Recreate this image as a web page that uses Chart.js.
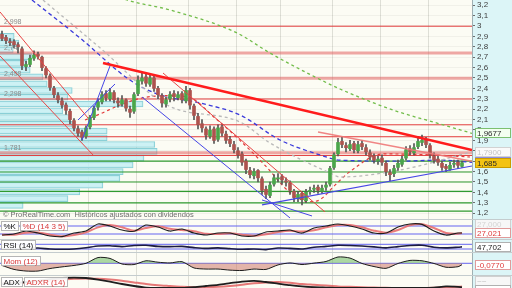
<!DOCTYPE html>
<html>
<head>
<meta charset="utf-8">
<script src="https://cdn.jsdelivr.net/npm/chart.js@4.4.1/dist/chart.umd.min.js"></script>
<style>
  html, body { margin: 0; padding: 0; background: #fff; }
  #wrap { position: relative; width: 512px; height: 288px; overflow: hidden; background: #c4ccce; }
  #wrap canvas { position: absolute; left: 0; }
</style>
</head>
<body>
<div id="wrap">
  <canvas id="cMain" width="512" height="219" style="top:0"></canvas>
  <canvas id="cStoch" width="512" height="19" style="top:220px"></canvas>
  <canvas id="cRsi" width="512" height="12" style="top:240px"></canvas>
  <canvas id="cMom" width="512" height="22" style="top:253px"></canvas>
  <canvas id="cAdx" width="512" height="12" style="top:276px"></canvas>
</div>
<script>
// ---- daily candles (index 0 .. 115) ----
const open = [2.92,2.89,2.85,2.85,2.82,2.78,2.61,2.63,2.69,2.73,
  2.70,2.59,2.52,2.40,2.33,2.28,2.24,2.18,2.09,2.01,
  1.98,1.94,2.03,2.12,2.22,2.27,2.35,2.30,2.36,2.28,
  2.25,2.29,2.20,2.18,2.35,2.47,2.51,2.44,2.50,2.40,
  2.33,2.25,2.30,2.35,2.31,2.35,2.28,2.38,2.23,2.13,
  2.06,2.01,1.94,2.01,1.91,2.03,1.96,1.91,1.86,1.80,
  1.77,1.70,1.61,1.56,1.61,1.53,1.43,1.37,1.48,1.53,
  1.55,1.51,1.49,1.41,1.34,1.39,1.32,1.41,1.43,1.45,
  1.41,1.45,1.48,1.64,1.77,1.89,1.85,1.82,1.87,1.80,
  1.87,1.83,1.78,1.75,1.70,1.73,1.68,1.59,1.58,1.64,
  1.67,1.73,1.82,1.78,1.84,1.88,1.91,1.85,1.75,1.72,
  1.68,1.65,1.62,1.67,1.69,1.65];
const close = [2.88,2.86,2.84,2.82,2.80,2.62,2.63,2.69,2.72,2.71,
  2.60,2.53,2.41,2.34,2.29,2.24,2.19,2.10,2.02,1.97,
  1.93,2.02,2.12,2.21,2.27,2.34,2.31,2.36,2.29,2.26,
  2.29,2.21,2.17,2.34,2.48,2.50,2.45,2.50,2.40,2.34,
  2.26,2.29,2.34,2.32,2.34,2.29,2.38,2.24,2.14,2.05,
  2.02,1.95,2.00,1.90,2.02,1.97,1.90,1.87,1.81,1.76,
  1.69,1.62,1.57,1.60,1.54,1.42,1.38,1.47,1.54,1.54,
  1.52,1.50,1.42,1.35,1.38,1.33,1.40,1.42,1.44,1.42,
  1.44,1.47,1.63,1.76,1.88,1.86,1.83,1.86,1.81,1.86,
  1.84,1.79,1.74,1.71,1.72,1.69,1.60,1.57,1.63,1.68,
  1.72,1.81,1.79,1.83,1.89,1.90,1.86,1.76,1.71,1.69,
  1.64,1.63,1.66,1.68,1.66,1.685];
const high = [2.95,2.91,2.88,2.87,2.84,2.80,2.66,2.72,2.76,2.75,
  2.71,2.61,2.54,2.42,2.36,2.31,2.26,2.20,2.11,2.04,
  2.00,2.04,2.14,2.23,2.30,2.37,2.38,2.40,2.38,2.31,
  2.33,2.30,2.23,2.36,2.52,2.55,2.54,2.54,2.52,2.42,
  2.35,2.32,2.37,2.38,2.37,2.37,2.42,2.40,2.25,2.16,
  2.10,2.03,2.04,2.03,2.05,2.05,1.99,1.94,1.89,1.83,
  1.79,1.72,1.64,1.63,1.62,1.55,1.46,1.50,1.57,1.58,
  1.57,1.54,1.51,1.43,1.41,1.41,1.43,1.45,1.47,1.47,
  1.47,1.50,1.65,1.78,1.92,1.93,1.88,1.90,1.89,1.89,
  1.90,1.86,1.81,1.77,1.75,1.76,1.70,1.62,1.66,1.71,
  1.75,1.84,1.85,1.87,1.94,1.95,1.93,1.87,1.78,1.75,
  1.70,1.67,1.69,1.71,1.71,1.70];
const low = [2.86,2.83,2.81,2.79,2.74,2.58,2.57,2.61,2.67,2.68,
  2.57,2.50,2.38,2.31,2.26,2.21,2.15,2.06,1.99,1.94,
  1.90,1.92,2.01,2.10,2.19,2.25,2.28,2.28,2.26,2.22,
  2.23,2.18,2.12,2.16,2.33,2.44,2.42,2.42,2.37,2.30,
  2.22,2.22,2.27,2.28,2.29,2.26,2.26,2.20,2.10,2.01,
  1.98,1.91,1.92,1.87,1.89,1.94,1.87,1.84,1.78,1.73,
  1.66,1.58,1.54,1.53,1.50,1.38,1.34,1.35,1.46,1.50,
  1.48,1.46,1.38,1.31,1.31,1.28,1.30,1.38,1.40,1.39,
  1.39,1.42,1.46,1.62,1.75,1.83,1.79,1.80,1.78,1.78,
  1.81,1.76,1.71,1.68,1.67,1.66,1.56,1.51,1.55,1.61,
  1.65,1.71,1.76,1.76,1.82,1.85,1.83,1.73,1.68,1.66,
  1.61,1.60,1.61,1.64,1.63,1.64];

// candle index where each new month begins
const monthStarts = [22, 34, 47, 59, 70, 83, 95, 107];
const priceTicks = [1.2, 1.3, 1.4, 1.5, 1.6, 1.7, 1.8, 1.9, 2.0, 2.1, 2.2, 2.3, 2.4, 2.5, 2.6, 2.7, 2.8, 2.9, 3.0, 3.1, 3.2];

// horizontal levels
const redLevels = [2.998, 2.298, 2.05, 1.935, 1.755];
const zoneLevels = [2.74, 2.498, 1.781];
const greenLevels = [1.70, 1.596, 1.50, 1.41, 1.30, 1.22];
const levelLabels = [2.998, 2.74, 2.498, 2.298, 1.781];

// volume profile (price bin, volume)
const profPrice = [2.90,2.835,2.77,2.705,2.64,2.575,2.51,2.445,2.38,2.315,2.25,2.185,2.12,2.055,1.99,1.925,1.86,1.795,1.73,1.665,1.60,1.535,1.47,1.405,1.34,1.275];
const profVol = [3.0,4.0,2.8,6.8,5.7,6.4,9.1,10.0,15.3,14.4,30.3,13.3,14.8,15.3,22.7,22.7,32.8,33.3,30.5,28.2,26.1,25.4,21.8,16.9,14.4,4.9];

// moving averages [candle index, price]
const maBlue = [[7.5,3.25],[19.5,2.885],[32,2.48],[39.5,2.337],[49.5,2.26],[59.5,2.144],[69.5,1.904],[79.5,1.76],[84.5,1.71],[99.5,1.70],[109.5,1.71],[117.5,1.6883]];
const maGrey = [[10.25,3.25],[24.5,2.79],[41.25,2.24],[59.5,2.077],[67,1.875],[82,1.587],[84.5,1.548],[99.5,1.615],[117.5,1.79]];
const maGreen = [[28,3.30],[31.25,3.25],[42,3.154],[58.75,2.933],[67,2.74],[78.75,2.5],[84.5,2.394],[97.75,2.192],[109.5,2.058],[117.5,1.9677]];
const maRed = [[20.75,2.096],[24.5,2.154],[29.5,2.24],[35.25,2.31],[42,2.33],[47,2.31],[53.25,2.115],[59.5,1.90],[65.75,1.66],[72,1.40],[77,1.31],[79.5,1.33],[83.25,1.47],[87,1.60],[95.25,1.77],[107.75,1.76],[117,1.74]];

// trend lines [candle index, price]
const trendMain = [[25.25,2.644],[117.5,1.808]];
const trendRedA = [[-0.5,3.135],[21.5,2.115]];
const trendRedB = [[-0.5,2.712],[22.75,1.760]];
const trendRedC = [[40.25,2.548],[80.75,1.212]];
const trendSalmon = [[79,1.981],[117.5,1.70]];
const trendBlueP = [[20,1.904],[27,2.616]];
const trendBlueQ = [[19,2.096],[28.25,2.442]];
const trendBlueE = [[35,2.317],[72,1.154]];
const trendBlueF = [[65,1.327],[77.5,1.173]];
const trendBlueG = [[65,1.279],[117.5,1.654]];

// indicators sampled at these candle indices
const oscIdx = [0,3,6,9,12,15,18,21,24,27,30,33,36,39,42,45,48,51,54,57,60,63,66,69,72,75,78,81,84,87,90,93,96,99,102,105,108,111,114,115];
const stochK = [12,20,42,27,5,0,27,42,95,80,50,40,87,72,42,57,27,12,27,27,5,5,35,42,50,27,65,80,95,80,57,27,27,72,95,92,42,12,27,27];
const stochD = [15,15,30,32,15,3,12,32,70,88,70,45,65,78,60,50,40,22,20,25,15,6,18,35,45,38,48,70,88,88,70,45,30,50,85,93,65,28,22,27.021];
const rsi = [35,28,33,38,30,28,30,40,55,58,50,60,62,52,50,52,42,35,40,33,28,30,25,38,35,30,45,52,62,60,55,48,40,50,60,62,45,40,45,47.702];
const mom = [-0.12,-0.34,-0.43,-0.43,-0.29,-0.2,-0.12,0,0.32,0.27,-0.04,-0.07,0.14,0.06,0.02,0.09,-0.26,-0.32,-0.32,-0.38,-0.4,-0.32,-0.34,-0.09,0.02,-0.07,0.01,0.1,0.35,0.29,-0.01,-0.18,-0.28,-0.01,0.16,0.14,-0.01,-0.22,-0.19,-0.077];
const adx = [20,22,25,28,32,35,36,35,31,26,20,15,11,10,10,10,12,15,18,22,26,28,25,21,17,14,12,11,10,10,10,10,10,10,10,10,11,14,13,11.749];
const adxr = [22,23,24,26,29,31,33,34,33,31,28,24,20,17,15,13,12,12,13,15,18,22,24,25,23,20,18,16,14,13,12,11,10.5,10,10,10,10.5,12,13,13.5];

const footerText = '\u00a9 ProRealTime.com  Hist\u00f3ricos ajustados con dividendos';

const X_MIN = -0.5, X_MAX = 117.5;
const FONT = '"Liberation Sans", Arial, sans-serif';
Chart.defaults.font.family = FONT;

const comma = (v, d) => v.toFixed(d).replace('.', ',');
const pts = arr => arr.map(p => ({ x: p[0], y: p[1] }));

function lineDs(points, color, width, dash, order, smooth) {
  return {
    type: 'line', data: pts(points), borderColor: color, borderWidth: width,
    borderDash: dash || [], pointRadius: 0, fill: false, order: order,
    cubicInterpolationMode: smooth ? 'monotone' : 'default', tension: 0
  };
}
const levelDs = (v, color, width, order) => lineDs([[X_MIN, v], [X_MAX, v]], color, width, null, order);

function oscDs(vals, color, width, order, extra) {
  return Object.assign({
    type: 'line', data: oscIdx.map((i, k) => ({ x: i, y: vals[k] })),
    borderColor: color, borderWidth: width, pointRadius: 0, fill: false, tension: 0.25, order: order
  }, extra || {});
}

const monthAxis = () => ({
  type: 'linear', min: X_MIN, max: X_MAX, offset: false,
  ticks: { display: false },
  grid: { color: '#dedfd6', drawTicks: false, offset: false },
  border: { display: false },
  afterBuildTicks: s => { s.ticks = monthStarts.map(i => ({ value: i - 0.5 })); },
  afterFit: s => { s.height = 0; }
});

// plugins
function bgPlugin() {
  return {
    id: 'bg',
    beforeDraw(chart) {
      const { ctx, chartArea: a, width, height } = chart;
      ctx.save();
      ctx.fillStyle = '#fcfcf4';
      ctx.fillRect(0, 0, width, height);
      ctx.fillStyle = '#dcf5f7';
      ctx.fillRect(a.right, 0, width - a.right, height);
      ctx.restore();
    }
  };
}

function boxesPlugin(items) {
  return {
    id: 'boxes',
    afterDraw(chart) {
      const { ctx, chartArea: a } = chart;
      const ys = chart.scales.y;
      ctx.save();
      ctx.font = '8px ' + FONT;
      ctx.textBaseline = 'middle';
      items.forEach(b => {
        const y = Math.round(ys.getPixelForValue(b.value) + (b.dy || 0));
        ctx.fillStyle = b.bg;
        ctx.fillRect(a.right + 3, y - 5, 36, 10);
        ctx.strokeStyle = b.border;
        ctx.lineWidth = 1;
        ctx.strokeRect(a.right + 3.5, y - 4.5, 35, 9);
        ctx.fillStyle = b.color;
        ctx.fillText(b.text, a.right + 5, y + 0.5);
      });
      ctx.restore();
    }
  };
}

function tagsPlugin(items, top) {
  return {
    id: 'tags',
    afterDraw(chart) {
      const ctx = chart.ctx;
      let x = 1;
      ctx.save();
      ctx.font = '8px ' + FONT;
      ctx.textBaseline = 'middle';
      items.forEach(t => {
        const w = Math.ceil(ctx.measureText(t.text).width) + 5;
        ctx.fillStyle = 'rgba(255,255,255,0.92)';
        ctx.fillRect(x, top, w, 10);
        ctx.strokeStyle = '#b5b5b5';
        ctx.strokeRect(x + 0.5, top + 0.5, w - 1, 9);
        ctx.fillStyle = t.color;
        ctx.fillText(t.text, x + 2.5, top + 5.5);
        x += w + 1;
      });
      ctx.restore();
    }
  };
}

const mainText = {
  id: 'mainText',
  afterDatasetsDraw(chart) {
    const { ctx } = chart;
    const ys = chart.scales.y;
    ctx.save();
    ctx.font = '7px ' + FONT;
    ctx.fillStyle = '#8a8a8a';
    ctx.textBaseline = 'bottom';
    levelLabels.forEach(v => ctx.fillText(String(v).replace('.', ','), 4, ys.getPixelForValue(v) - 1));
    ctx.font = '7.5px ' + FONT;
    ctx.fillStyle = '#6e6e6e';
    ctx.textBaseline = 'alphabetic';
    ctx.fillText(footerText, 3, 217);
    ctx.restore();
  }
};

// ---- main price panel ----
const idx = close.map((_, i) => i);
const UP = '#4aa64a', DOWN = '#ad534e';

const mainSets = [
  {
    type: 'bar', indexAxis: 'y', xAxisID: 'xv', yAxisID: 'y',
    data: profPrice.map((p, k) => ({ x: profVol[k], y: p })),
    backgroundColor: 'rgba(196,238,243,0.85)', borderColor: '#8acfd6', borderWidth: 1,
    barThickness: 6, grouped: false, order: 30
  },
  ...greenLevels.map(v => levelDs(v, '#2f9a2f', 1.2, 25)),
  ...zoneLevels.map(v => levelDs(v, 'rgba(226,96,96,0.55)', 3, 25)),
  ...redLevels.map(v => levelDs(v, '#e23c3c', 1, 25)),
  lineDs(maGreen, '#72bd4a', 1.3, [3, 3], 20, true),
  lineDs(maGrey, '#b9b9b9', 1.3, [3, 3], 20, true),
  lineDs(maBlue, '#3b3bdb', 1.3, [4, 3], 20, true),
  lineDs(maRed, '#e23a3a', 1.2, [3, 3], 20, true),
  {
    type: 'bar', data: idx.map(i => ({ x: i, y: [low[i], high[i]] })),
    backgroundColor: '#555555', barThickness: 1, grouped: false, order: 12
  },
  {
    type: 'bar', data: idx.map(i => ({ x: i, y: [open[i], close[i]] })),
    backgroundColor: idx.map(i => close[i] >= open[i] ? UP : DOWN),
    barThickness: 3, grouped: false, minBarLength: 1, order: 11
  },
  lineDs(trendRedA, '#e84444', 1, null, 5),
  lineDs(trendRedB, '#e84444', 1, null, 5),
  lineDs(trendRedC, '#e84444', 1, null, 5),
  lineDs(trendSalmon, 'rgba(238,120,120,0.9)', 1.5, null, 5),
  lineDs(trendBlueP, '#4646e6', 1, null, 5),
  lineDs(trendBlueQ, '#4646e6', 1, null, 5),
  lineDs(trendBlueE, '#4646e6', 1, null, 5),
  lineDs(trendBlueF, '#4646e6', 1, null, 5),
  lineDs(trendBlueG, '#4646e6', 1.2, null, 5),
  lineDs(trendMain, '#ff1c1c', 2.5, null, 4)
];

const last = a => a[a.length - 1];

new Chart(document.getElementById('cMain'), {
  type: 'bar',
  data: { datasets: mainSets },
  options: {
    responsive: false, animation: false, devicePixelRatio: 1,
    layout: { padding: 0 },
    plugins: { legend: { display: false }, tooltip: { enabled: false } },
    scales: {
      x: monthAxis(),
      xv: { type: 'linear', axis: 'x', min: 0, max: 100, display: false, offset: false, grid: { offset: false } },
      y: {
        type: 'linear', position: 'right', min: 1.144, max: 3.25, offset: false, beginAtZero: false,
        afterBuildTicks: s => { s.ticks = priceTicks.map(v => ({ value: v })); },
        afterFit: s => { s.width = 40; s.paddingTop = 0; s.paddingBottom = 0; },
        ticks: {
          autoSkip: false, padding: 2, color: '#3c3c3c', font: { size: 8 },
          callback: v => String(Math.round(v * 10) / 10).replace('.', ',')
        },
        grid: { color: 'rgba(0,0,0,0.045)', tickColor: '#6d6d6d', tickLength: 3, offset: false },
        border: { display: true, color: '#9fb0b3' }
      }
    }
  },
  plugins: [bgPlugin(), mainText, boxesPlugin([
    { value: last(maGrey)[1], text: comma(last(maGrey)[1], 4), bg: '#fafafa', border: '#d2d2d2', color: '#c4c4c4' },
    { value: last(maBlue)[1], text: comma(last(maBlue)[1], 4), bg: '#eef0ff', border: '#8f8fe0', color: '#2f2fd0' },
    { value: last(maGreen)[1], text: comma(last(maGreen)[1], 4), bg: '#f3fff0', border: '#7cc070', color: '#2a2a2a' },
    { value: last(close), text: comma(last(close), 3), bg: '#f3c312', border: '#c99c00', color: '#2a2a2a' }
  ])]
});

// ---- indicator panels ----
function subChart(id, yMin, yMax, datasets, tags, tagTop, boxes) {
  return new Chart(document.getElementById(id), {
    type: 'line',
    data: { datasets },
    options: {
      responsive: false, animation: false, devicePixelRatio: 1,
      layout: { padding: 0 },
      plugins: { legend: { display: false }, tooltip: { enabled: false } },
      scales: {
        x: monthAxis(),
        y: {
          type: 'linear', position: 'right', min: yMin, max: yMax,
          ticks: { display: false }, grid: { display: false },
          border: { display: true, color: '#9fb0b3' },
          afterFit: s => { s.width = 40; s.paddingTop = 0; s.paddingBottom = 0; }
        }
      }
    },
    plugins: [bgPlugin(), tagsPlugin(tags, tagTop), boxesPlugin(boxes)]
  });
}

const BLUE_LVL = '#6464f0';

subChart('cStoch', -17.5, 125, [
  levelDs(80, BLUE_LVL, 1, 9), levelDs(20, BLUE_LVL, 1, 9),
  oscDs(stochD, 'rgba(232,110,110,0.9)', 2, 5),
  oscDs(stochK, '#1e1e1e', 1.1, 4)
], [{ text: '%K', color: '#111' }, { text: '%D (14 3 5)', color: '#d83a3a' }], 1, [
  { value: last(stochK), dy: -9, text: comma(last(stochK), 3), bg: '#f7f7f7', border: '#d0d0d0', color: '#d4d4d4' },
  { value: last(stochD), text: comma(last(stochD), 3), bg: '#ffffff', border: '#e09a9a', color: '#e03c3c' }
]);

subChart('cRsi', 4.5, 106.6, [
  levelDs(70, BLUE_LVL, 1, 9), levelDs(30, BLUE_LVL, 1, 9),
  oscDs(rsi, '#1b1b40', 1.6, 4)
], [{ text: 'RSI (14)', color: '#111' }], 0, [
  { value: last(rsi), text: comma(last(rsi), 3), bg: '#ffffff', border: '#b0b0b0', color: '#222' }
]);

subChart('cMom', -0.65, 0.572, [
  levelDs(0, BLUE_LVL, 1, 9),
  oscDs(mom, '#1e1e1e', 1, 4, {
    fill: { target: { value: 0 }, above: 'rgba(118,190,108,0.6)', below: 'rgba(206,120,108,0.55)' }
  })
], [{ text: 'Mom (12)', color: '#d83a3a' }], 3, [
  { value: last(mom), text: comma(last(mom), 4), bg: '#ffffff', border: '#e09a9a', color: '#e03c3c' }
]);

subChart('cAdx', 10, 40, [
  oscDs(adxr, 'rgba(226,96,96,0.85)', 2, 5),
  oscDs(adx, '#1e1e1e', 1.8, 4)
], [{ text: 'ADX', color: '#111' }, { text: 'ADXR (14)', color: '#d83a3a' }], 1, [
  { value: last(adx), dy: -6, text: '~~', bg: '#f7f7f7', border: '#d0d0d0', color: '#bdbdbd' },
  { value: last(adx), dy: 3, text: comma(last(adx), 3), bg: '#ffffff', border: '#b0b0b0', color: '#222' }
]);
</script>
</body>
</html>
